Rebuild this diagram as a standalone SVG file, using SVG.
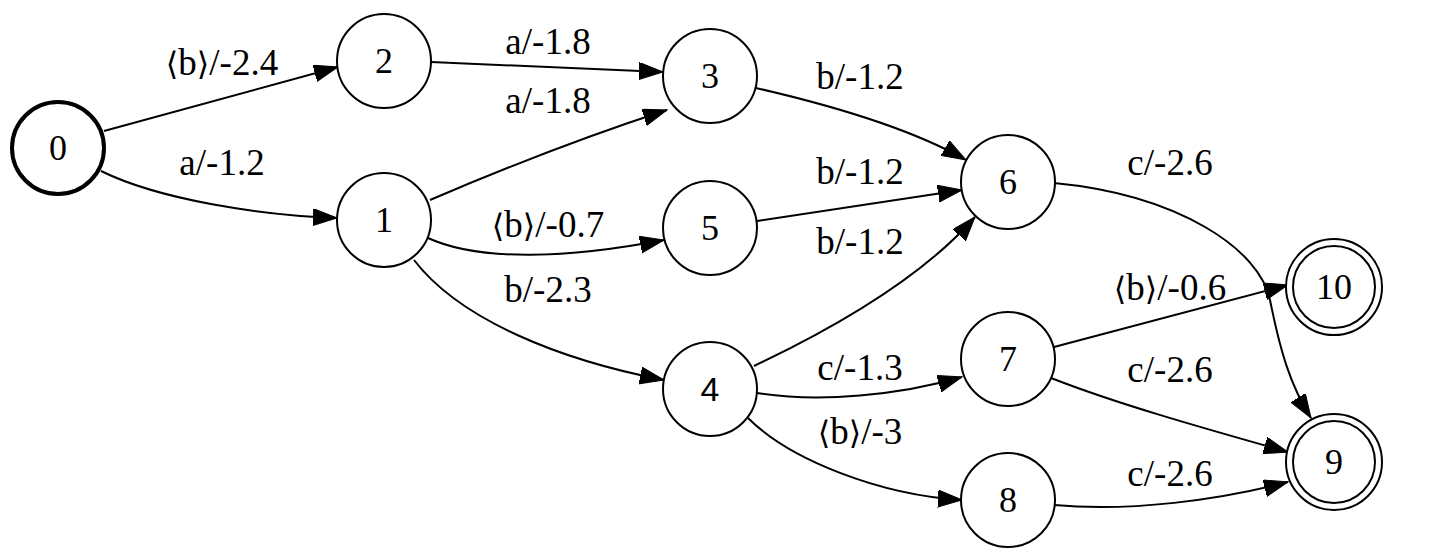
<svg xmlns="http://www.w3.org/2000/svg" width="1432" height="560" viewBox="0 0 1432 560">
<defs>
<marker id="ah" markerUnits="userSpaceOnUse" markerWidth="26" markerHeight="20" refX="24" refY="8.5" orient="auto" viewBox="0 0 26 20">
<path d="M0,0 L24,8.5 L0,17 Z" fill="#000" stroke="#000" stroke-width="1"/>
</marker>
</defs>
<rect width="1432" height="560" fill="#fff"/>
<g id="edges">
<g fill="none" stroke="#000" stroke-width="2" marker-end="url(#ah)">
<path d="M104,131 L338,67"/>
<path d="M101,171 C160,200 260,215 337,218"/>
<path d="M431,62 L663,72"/>
<path d="M430,200 C500,170 590,135 667,110"/>
<path d="M428,238 C480,262 570,258 664,240"/>
<path d="M414,260 C460,320 560,360 664,380"/>
<path d="M756,88 C830,105 910,128 966,160"/>
<path d="M757,221 L962,190"/>
<path d="M754,366 C830,330 920,280 975,217"/>
<path d="M757,393 C820,403 900,395 962,377"/>
<path d="M748,418 C790,460 880,495 962,500"/>
<path d="M1054,183 C1180,195 1260,250 1270,300 C1280,350 1290,385 1311,418"/>
<path d="M1054,347 L1288,285"/>
<path d="M1051,378 C1120,405 1210,430 1288,452"/>
<path d="M1054,505 C1130,512 1220,500 1288,482"/>
</g>
<g fill="#000" text-anchor="middle">
<text font-family="Liberation Serif, DejaVu Serif, serif" font-size="37" x="222" y="75"><tspan font-family="DejaVu Serif, DejaVu Sans, serif" font-size="32">⟨</tspan>b<tspan font-family="DejaVu Serif, DejaVu Sans, serif" font-size="32">⟩</tspan>/-2.4</text>
<text font-family="Liberation Serif, DejaVu Serif, serif" font-size="37" x="222" y="175">a/-1.2</text>
<text font-family="Liberation Serif, DejaVu Serif, serif" font-size="37" x="548" y="54">a/-1.8</text>
<text font-family="Liberation Serif, DejaVu Serif, serif" font-size="37" x="548" y="113">a/-1.8</text>
<text font-family="Liberation Serif, DejaVu Serif, serif" font-size="37" x="860" y="89">b/-1.2</text>
<text font-family="Liberation Serif, DejaVu Serif, serif" font-size="37" x="860" y="184">b/-1.2</text>
<text font-family="Liberation Serif, DejaVu Serif, serif" font-size="37" x="548" y="237"><tspan font-family="DejaVu Serif, DejaVu Sans, serif" font-size="32">⟨</tspan>b<tspan font-family="DejaVu Serif, DejaVu Sans, serif" font-size="32">⟩</tspan>/-0.7</text>
<text font-family="Liberation Serif, DejaVu Serif, serif" font-size="37" x="860" y="254">b/-1.2</text>
<text font-family="Liberation Serif, DejaVu Serif, serif" font-size="37" x="548" y="302">b/-2.3</text>
<text font-family="Liberation Serif, DejaVu Serif, serif" font-size="37" x="1170" y="175">c/-2.6</text>
<text font-family="Liberation Serif, DejaVu Serif, serif" font-size="37" x="1170" y="300"><tspan font-family="DejaVu Serif, DejaVu Sans, serif" font-size="32">⟨</tspan>b<tspan font-family="DejaVu Serif, DejaVu Sans, serif" font-size="32">⟩</tspan>/-0.6</text>
<text font-family="Liberation Serif, DejaVu Serif, serif" font-size="37" x="1170" y="382">c/-2.6</text>
<text font-family="Liberation Serif, DejaVu Serif, serif" font-size="37" x="860" y="380">c/-1.3</text>
<text font-family="Liberation Serif, DejaVu Serif, serif" font-size="37" x="860" y="444"><tspan font-family="DejaVu Serif, DejaVu Sans, serif" font-size="32">⟨</tspan>b<tspan font-family="DejaVu Serif, DejaVu Sans, serif" font-size="32">⟩</tspan>/-3</text>
<text font-family="Liberation Serif, DejaVu Serif, serif" font-size="37" x="1170" y="486">c/-2.6</text>
</g>
</g>
<g fill="#fff" stroke="#000" stroke-width="2">
<g id="node0"><circle cx="58" cy="148" r="46" stroke-width="4"/><text fill="#000" stroke="none" text-anchor="middle" font-family="Liberation Serif, DejaVu Serif, serif" font-size="36" x="58" y="160">0</text></g>
<g id="node2"><circle cx="384" cy="61" r="47"/><text fill="#000" stroke="none" text-anchor="middle" font-family="Liberation Serif, DejaVu Serif, serif" font-size="36" x="384" y="73">2</text></g>
<g id="node1"><circle cx="384" cy="220" r="47"/><text fill="#000" stroke="none" text-anchor="middle" font-family="Liberation Serif, DejaVu Serif, serif" font-size="36" x="384" y="232">1</text></g>
<g id="node3"><circle cx="710" cy="76" r="47"/><text fill="#000" stroke="none" text-anchor="middle" font-family="Liberation Serif, DejaVu Serif, serif" font-size="36" x="710" y="88">3</text></g>
<g id="node5"><circle cx="710" cy="228" r="47"/><text fill="#000" stroke="none" text-anchor="middle" font-family="Liberation Serif, DejaVu Serif, serif" font-size="36" x="710" y="240">5</text></g>
<g id="node4"><circle cx="710" cy="389" r="47"/><text fill="#000" stroke="none" text-anchor="middle" font-family="Liberation Sans, Arial, sans-serif" font-size="34" x="710" y="401">4</text></g>
<g id="node6"><circle cx="1008" cy="182" r="47"/><text fill="#000" stroke="none" text-anchor="middle" font-family="Liberation Serif, DejaVu Serif, serif" font-size="36" x="1008" y="194">6</text></g>
<g id="node7"><circle cx="1008" cy="359" r="47"/><text fill="#000" stroke="none" text-anchor="middle" font-family="Liberation Serif, DejaVu Serif, serif" font-size="36" x="1008" y="371">7</text></g>
<g id="node8"><circle cx="1008" cy="500" r="47"/><text fill="#000" stroke="none" text-anchor="middle" font-family="Liberation Serif, DejaVu Serif, serif" font-size="36" x="1008" y="512">8</text></g>
<g id="node10"><circle cx="1334" cy="287" r="48"/><circle cx="1334" cy="287" r="41"/><text fill="#000" stroke="none" text-anchor="middle" font-family="Liberation Serif, DejaVu Serif, serif" font-size="36" x="1334" y="299">10</text></g>
<g id="node9"><circle cx="1334" cy="462" r="48"/><circle cx="1334" cy="462" r="41"/><text fill="#000" stroke="none" text-anchor="middle" font-family="Liberation Serif, DejaVu Serif, serif" font-size="36" x="1334" y="474">9</text></g>
</g>
</svg>
